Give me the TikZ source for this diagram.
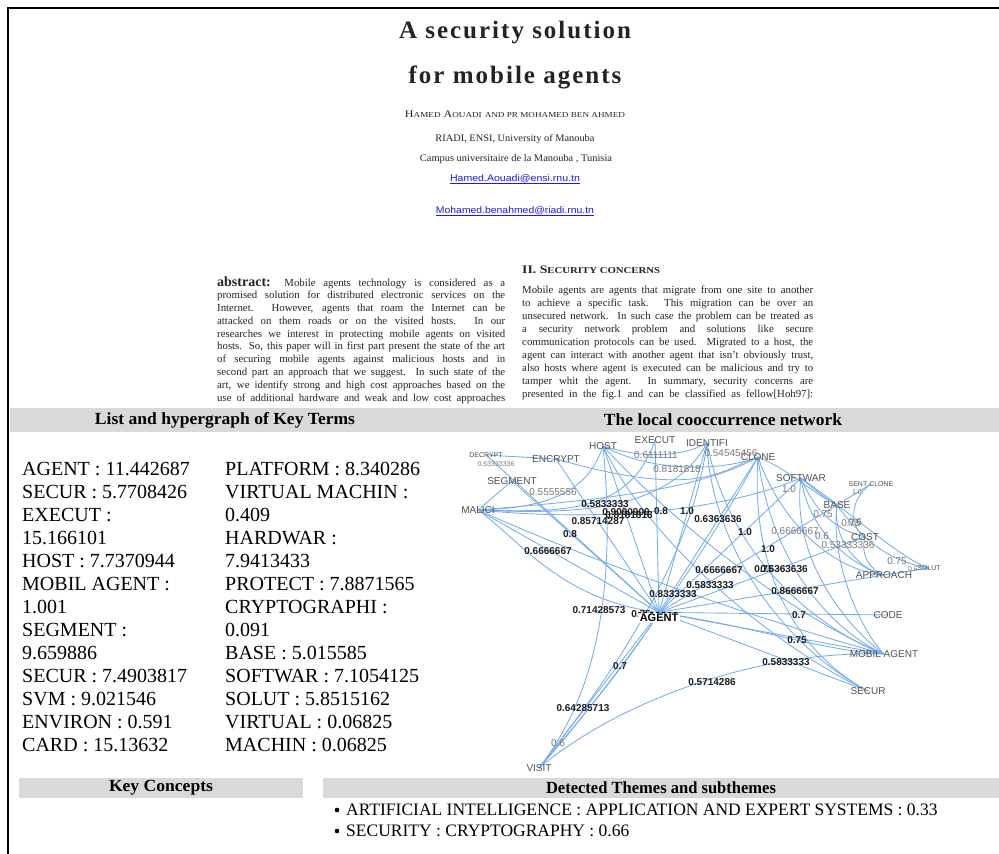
\documentclass[tikz,border=0pt]{standalone}
\usepackage{fontspec}
\setmainfont{Liberation Serif}
\setsansfont{Liberation Sans}
\usepackage{graphicx}
\definecolor{barGray}{RGB}{217,217,217}
\definecolor{edgeBlue}{RGB}{118,172,232}
\definecolor{termGray}{RGB}{80,80,80}
\definecolor{weightDark}{RGB}{28,28,28}
\definecolor{weightGray}{RGB}{120,120,120}
\definecolor{mailBlue}{RGB}{25,25,235}
\definecolor{paperInk}{RGB}{35,35,35}
\newcommand{\fitw}[2]{\resizebox{#1}{\height}{#2}}
% fake small capitals: first letter large, rest small
\newcommand{\fsc}[2]{{\fontsize{10}{10}\selectfont #1}{\fontsize{7.6}{10}\selectfont #2}}
\pgfdeclarelayer{background}
\pgfsetlayers{background,main}
\begin{document}
\begin{tikzpicture}[x=1pt,y=-1pt,
  link/.style={draw=edgeBlue, line width=0.85pt},
  term/.style={font=\sffamily\fontsize{10}{10}\selectfont, text=termGray, inner sep=0pt},
  smallterm/.style={font=\sffamily\fontsize{7}{7}\selectfont, text=termGray, inner sep=0pt},
  wbold/.style={font=\sffamily\bfseries\fontsize{10}{10}\selectfont, text=weightDark, inner sep=0pt},
  wgray/.style={font=\sffamily\fontsize{10}{10}\selectfont, text=weightGray, inner sep=0pt},
  wsmall/.style={font=\sffamily\fontsize{7}{7}\selectfont, text=weightGray, inner sep=0pt},
  bar/.style={fill=barGray, draw=none},
  bartitle/.style={font=\bfseries\fontsize{17}{17}\selectfont, inner sep=0pt},
  paper/.style={font=\fontsize{10.8}{12.9}\selectfont, text=paperInk, inner sep=0pt, anchor=base west},
  keyterm/.style={font=\fontsize{20}{23}\selectfont, inner sep=0pt, anchor=base west},
  theme/.style={font=\fontsize{17.5}{20}\selectfont, inner sep=0pt, anchor=west},
]
\useasboundingbox (0,0) rectangle (999,854);

% ---------------- paper excerpt ----------------
\node[font=\bfseries\fontsize{25}{30}\selectfont\addfontfeatures{LetterSpace=8}, text=paperInk] (title1) at (515,33) {A security solution};
\node[font=\bfseries\fontsize{25}{30}\selectfont\addfontfeatures{LetterSpace=8}, text=paperInk] (title2) at (515,77) {for mobile agents};
\node[text=paperInk, inner sep=0] (authors) at (515,114) {\fitw{220pt}{\fsc{H}{AMED} \fsc{A}{OUADI} {\fontsize{7.6}{10}\selectfont AND PR MOHAMED BEN AHMED}}};
\node[text=paperInk, inner sep=0] (affil1) at (515,139) {\fitw{159pt}{\fontsize{10}{12}\selectfont RIADI, ENSI, University of Manouba}};
\node[text=paperInk, inner sep=0] (affil2) at (516,159) {\fitw{192pt}{\fontsize{10}{12}\selectfont Campus universitaire de la Manouba , Tunisia}};
\node[text=mailBlue, inner sep=0] (mail1) at (515,179) {\fitw{130pt}{\sffamily\fontsize{9.5}{11}\selectfont Hamed.Aouadi@ensi.rnu.tn}};
\node[text=mailBlue, inner sep=0] (mail2) at (515,211) {\fitw{158pt}{\sffamily\fontsize{9.5}{11}\selectfont Mohamed.benahmed@riadi.rnu.tn}};
\draw[mailBlue, line width=0.5pt] ([yshift=-1.6pt]mail1.base west) -- ([yshift=-1.6pt]mail1.base east);
\draw[mailBlue, line width=0.5pt] ([yshift=-1.6pt]mail2.base west) -- ([yshift=-1.6pt]mail2.base east);

% abstract column
\foreach \ln [count=\i] in {
  {{\fontsize{14}{14}\selectfont\bfseries abstract:} Mobile agents technology is considered as a},
  {promised solution for distributed electronic services on the},
  {Internet. However, agents that roam the Internet can be},
  {attacked on them roads or on the visited hosts. In our},
  {researches we interest in protecting mobile agents on visited},
  {hosts. So, this paper will in first part present the state of the art},
  {of securing mobile agents against malicious hosts and in},
  {second part an approach that we suggest. In such state of the},
  {art, we identify strong and high cost approaches based on the},
  {use of additional hardware and weak and low cost approaches}}
  \node[paper] (abs\i) at (217,{286+12.78*(\i-1)}) {\makebox[288pt][s]{\ln}};

% second column
\node[paper] (secHead) at (522,273) {\fitw{138pt}{\bfseries\fontsize{11.5}{12}\selectfont II. S{\fontsize{9}{12}\selectfont ECURITY CONCERNS}}};
\foreach \ln [count=\i] in {
  {Mobile agents are agents that migrate from one site to another},
  {to achieve a specific task. This migration can be over an},
  {unsecured network. In such case the problem can be treated as},
  {a security network problem and solutions like secure},
  {communication protocols can be used. Migrated to a host, the},
  {agent can interact with another agent that isn't obviously trust,},
  {also hosts where agent is executed can be malicious and try to},
  {tamper whit the agent. In summary, security concerns are},
  {presented in the fig.1 and can be classified as fellow[Hoh97]:}}
  \node[paper] (sec\i) at (522,{293+13*(\i-1)}) {\makebox[291pt][s]{\ln}};

% ---------------- section headers ----------------
\fill[bar] (10,408) rectangle (999,432);
\node[bartitle] (hdrTerms) at (225,420) {\fitw{260pt}{List and hypergraph of Key Terms}};
\node[bartitle] (hdrNet) at (723,420) {\fitw{238pt}{The local cooccurrence network}};

\fill[bar] (19,778) rectangle (303,798);
\fill[bar] (323,778) rectangle (999,798);
\node[bartitle] (hdrConcepts) at (161,788) {\fitw{104pt}{Key Concepts}};
\node[bartitle] (hdrThemes) at (661,788) {\fitw{230pt}{Detected Themes and subthemes}};

% ---------------- key terms ----------------
\foreach \ln [count=\i] in {AGENT : 11.442687, SECUR : 5.7708426, EXECUT :, 15.166101,
  HOST : 7.7370944, MOBIL AGENT :, 1.001, SEGMENT :, 9.659886, SECUR : 7.4903817,
  SVM\ : 9.021546, ENVIRON : 0.591, CARD : 15.13632}
  \node[keyterm] (kl\i) at (22,{475+23*(\i-1)}) {\ln};
\foreach \ln [count=\i] in {PLATFORM : 8.340286, VIRTUAL MACHIN :, 0.409, HARDWAR :,
  7.9413433, PROTECT : 7.8871565, CRYPTOGRAPHI :, 0.091, BASE : 5.015585,
  SOFTWAR : 7.1054125, SOLUT : 5.8515162, VIRTUAL : 0.06825, MACHIN : 0.06825}
  \node[keyterm] (kr\i) at (225,{475+23*(\i-1)}) {\ln};

% ---------------- themes ----------------
\fill (337,810) circle (2.3pt);
\fill (337,831) circle (2.3pt);
\node[theme] (theme1) at (346,810) {ARTIFICIAL INTELLIGENCE : APPLICATION AND EXPERT SYSTEMS : 0.33};
\node[theme] (theme2) at (346,831) {SECURITY : CRYPTOGRAPHY : 0.66};

% ---------------- cooccurrence network ----------------
\node[smallterm] (DECRYPT) at (486,455) {DECRYPT};
\node[term] (ENCRYPT) at (556,459) {ENCRYPT};
\node[term] (HOST) at (603,446) {HOST};
\node[term] (EXECUT) at (655,440) {EXECUT};
\node[term] (IDENTIFI) at (707,443) {IDENTIFI};
\node[term] (CLONE) at (758,457) {CLONE};
\node[term] (SEGMENT) at (512,481) {SEGMENT};
\node[term] (MALICI) at (478,510) {MALICI};
\node[term] (SOFTWAR) at (801,478) {SOFTWAR};
\node[smallterm] (SENTCLONE) at (871,484) {SENT CLONE};
\node[term] (BASE) at (837,505) {BASE};
\node[term] (COST) at (865,537) {COST};
\node[term] (APPROACH) at (884,575) {APPROACH};
\node[smallterm] (SOLUT) at (929,568) {SOLUT};
\node[term] (CODE) at (888,615) {CODE};
\node[term] (MOBIL) at (884,654) {MOBIL AGENT};
\node[term] (SECUR) at (868,691) {SECUR};
\node[term] (VISIT) at (539,768) {VISIT};

% weight partly hidden behind the central term
\node[wbold] (wHidden) at (641,614) {0.75};
\node[font=\sffamily\bfseries\fontsize{11}{11}\selectfont, fill=white, inner xsep=1.5pt, inner ysep=1.5pt] (AGENT) at (659,618) {AGENT};
\draw[dashed, line width=0.5pt] (AGENT.north west) -- (AGENT.north east);

\begin{pgfonlayer}{background}
  % star around AGENT
  \foreach \t in {HOST,EXECUT,IDENTIFI,CLONE,SOFTWAR,BASE,COST,APPROACH,CODE,MOBIL,SECUR,VISIT,MALICI,DECRYPT,SEGMENT,ENCRYPT}
    \draw[link] (AGENT.north) -- (\t.center);
  \draw[link] (AGENT.north) .. controls (760,628) and (820,650) .. (MOBIL.center);
  \draw[link] (AGENT.north) .. controls (630,660) and (580,720) .. (VISIT.center);
  \draw[link] (AGENT.north) .. controls (560,600) and (520,540) .. (MALICI.center);
  % HOST links
  \draw[link] (HOST.center) .. controls (590,485) and (560,508) .. (MALICI.center);
  \draw[link] (HOST.center) .. controls (640,458) and (680,458) .. (IDENTIFI.center);
  \draw[link] (HOST.center) .. controls (650,472) and (720,472) .. (CLONE.center);
  \draw[link] (HOST.center) .. controls (618,600) and (592,700) .. (VISIT.center);
  \draw[link] (HOST.center) .. controls (680,530) and (800,620) .. (MOBIL.center);
  \draw[link] (HOST.center) .. controls (650,545) and (780,650) .. (SECUR.center);
  % MALICI links
  \draw[link] (MALICI.center) .. controls (600,500) and (700,490) .. (CLONE.center);
  \draw[link] (MALICI.center) .. controls (580,515) and (670,510) .. (IDENTIFI.center);
  \draw[link] (MALICI.center) .. controls (600,522) and (720,512) .. (SOFTWAR.center);
  \draw[link] (MALICI.center) .. controls (560,512) and (630,515) .. (EXECUT.center);
  \draw[link] (MALICI.center) .. controls (600,565) and (760,620) .. (MOBIL.center);
  \draw[link] (MALICI.center) -- (SEGMENT.center);
  % IDENTIFI and CLONE links
  \draw[link] (IDENTIFI.center) .. controls (710,540) and (780,645) .. (SECUR.center);
  \draw[link] (IDENTIFI.center) .. controls (730,560) and (820,630) .. (MOBIL.center);
  \draw[link] (IDENTIFI.center) .. controls (690,570) and (600,690) .. (VISIT.center);
  \draw[link] (CLONE.center) .. controls (700,565) and (600,700) .. (VISIT.center);
  \draw[link] (CLONE.center) .. controls (790,470) and (815,495) .. (BASE.center);
  \draw[link] (CLONE.center) .. controls (780,520) and (830,570) .. (APPROACH.center);
  \draw[link] (CLONE.center) .. controls (770,560) and (830,630) .. (MOBIL.center);
  \draw[link] (CLONE.center) .. controls (750,575) and (800,655) .. (SECUR.center);
  \draw[link] (CLONE.center) .. controls (720,470) and (700,500) .. (ENCRYPT.center);
  % right cluster
  \draw[link] (SOFTWAR.center) .. controls (815,490) and (825,498) .. (BASE.center);
  \draw[link] (SOFTWAR.center) .. controls (818,520) and (845,532) .. (COST.center);
  \draw[link] (SOFTWAR.center) .. controls (808,530) and (850,565) .. (APPROACH.center);
  \draw[link] (SOFTWAR.center) .. controls (790,560) and (850,630) .. (MOBIL.center);
  \draw[link] (SOFTWAR.center) .. controls (860,520) and (900,558) .. (SOLUT.center);
  \draw[link] (BASE.center) -- (SENTCLONE.center);
  \draw[link] (SENTCLONE.center) .. controls (848,500) and (850,528) .. (COST.center);
  \draw[link] (BASE.center) .. controls (846,518) and (856,528) .. (COST.center);
  \draw[link] (BASE.center) .. controls (832,540) and (860,570) .. (APPROACH.center);
  \draw[link] (COST.center) .. controls (860,555) and (870,570) .. (APPROACH.center);
  \draw[link] (COST.center) .. controls (885,555) and (905,564) .. (SOLUT.center);
  \draw[link] (APPROACH.center) -- (SOLUT.center);
  \draw[link] (BASE.center) .. controls (830,560) and (860,630) .. (MOBIL.center);
  % VISIT links
  \draw[link] (VISIT.center) .. controls (620,700) and (760,650) .. (MOBIL.center);
  \draw[link] (DECRYPT.center) -- (ENCRYPT.center);
\end{pgfonlayer}

% edge weights, strong
\foreach \x/\y/\t [count=\i] in {605/504/0.5833333, 626/512/0.9090909, 629/515/0.8181818,
  661/511/0.8, 598/521/0.85714287, 687/511/1.0, 718/519/0.6363636, 570/534/0.8,
  548/551/0.6666667, 745/532/1.0, 768/549/1.0, 719/570/0.6666667, 764/569/0.75,
  784/569/0.6363636, 710/585/0.5833333, 795/591/0.8666667, 673/594/0.8333333,
  599/610/0.71428573, 799/615/0.7, 797/640/0.75, 786/662/0.5833333,
  712/682/0.5714286, 620/666/0.7, 583/708/0.64285713}
  \node[wbold] (ws\i) at (\x,\y) {\t};

% edge weights, faint
\foreach \x/\y/\t [count=\i] in {656/455/0.6111111, 677/469/0.8181818, 731/453/0.54545456,
  553/492/0.5555556, 789/489/1.0, 823/514/0.75, 851/523/0.75, 855/522/0.6,
  795/531/0.6666667, 822/536/0.6, 848/545/0.53333336, 897/561/0.75, 558/743/0.6}
  \node[wgray] (wf\i) at (\x,\y) {\t};
\node[wsmall] (wt1) at (496,464) {0.53333336};
\node[wsmall] (wt2) at (857,492) {1.0};
\node[wsmall] (wt3) at (913,569) {0.6};

% ---------------- page frame ----------------
\draw[line width=2pt] (8,854) -- (8,8) -- (999,8);
\end{tikzpicture}
\end{document}
